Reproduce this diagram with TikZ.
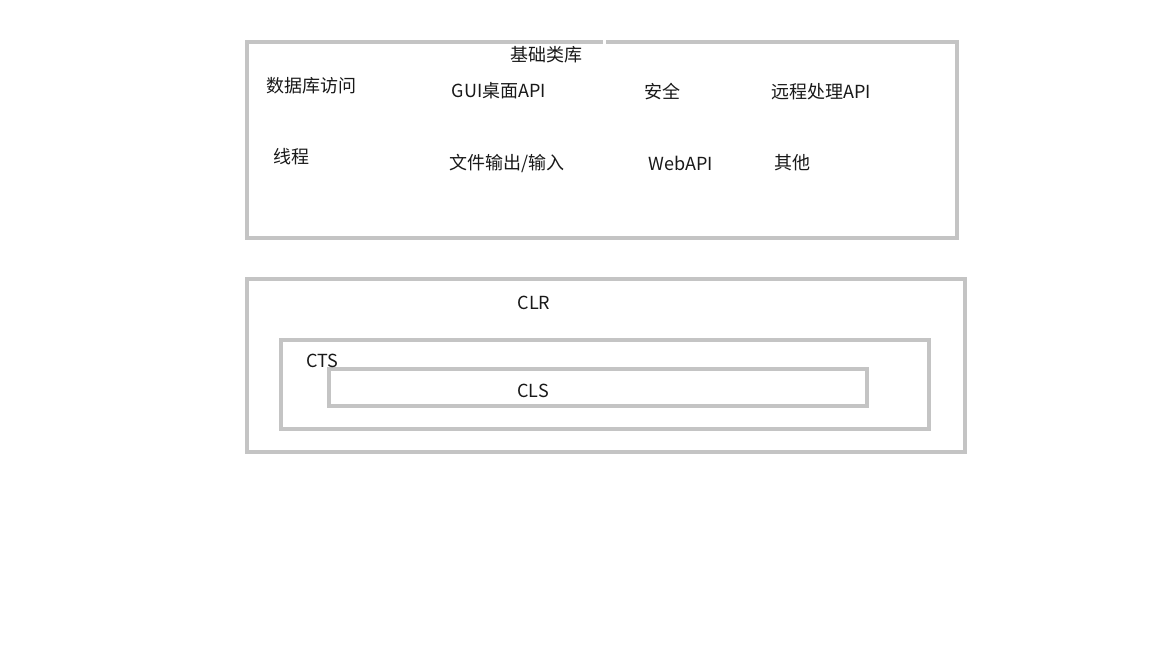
\documentclass[tikz,border=0pt]{standalone}
\usepackage{fontspec}
\setmainfont{Noto Sans CJK SC}
\begin{document}
\begin{tikzpicture}[x=1pt,y=-1pt,
  frame/.style={draw=black!23,line width=4.5pt},
  lbl/.style={font=\fontsize{18}{20}\selectfont,text=black!90,inner sep=0pt}]
\useasboundingbox[fill=white] (0,0) rectangle (1152,648);
% top box with gap in top border
\draw[frame] (603,42) -- (247,42) -- (247,238) -- (957,238) -- (957,42) -- (606,42);
\node[lbl] (base) at (546,55) {基础类库};
\node[lbl] (db) at (311,86) {数据库访问};
\node[lbl] (gui) at (499,91) {GUI桌面API};
\node[lbl] (sec) at (662,92) {安全};
\node[lbl] (remote) at (821,92) {远程处理API};
\node[lbl] (thread) at (291,157) {线程};
\node[lbl] (io) at (507,163) {文件输出/输入};
\node[lbl] (web) at (681,163) {WebAPI};
\node[lbl] (other) at (792,163) {其他};
% CLR
\draw[frame] (247,279) rectangle (965,452);
\draw[frame] (281,340) rectangle (929,429);
\draw[frame] (329,369) rectangle (867,406);
\node[lbl] (clr) at (534,303) {CLR};
\node[lbl] (cts) at (322,361) {CTS};
\node[lbl] (cls) at (533,391) {CLS};
\end{tikzpicture}
\end{document}
